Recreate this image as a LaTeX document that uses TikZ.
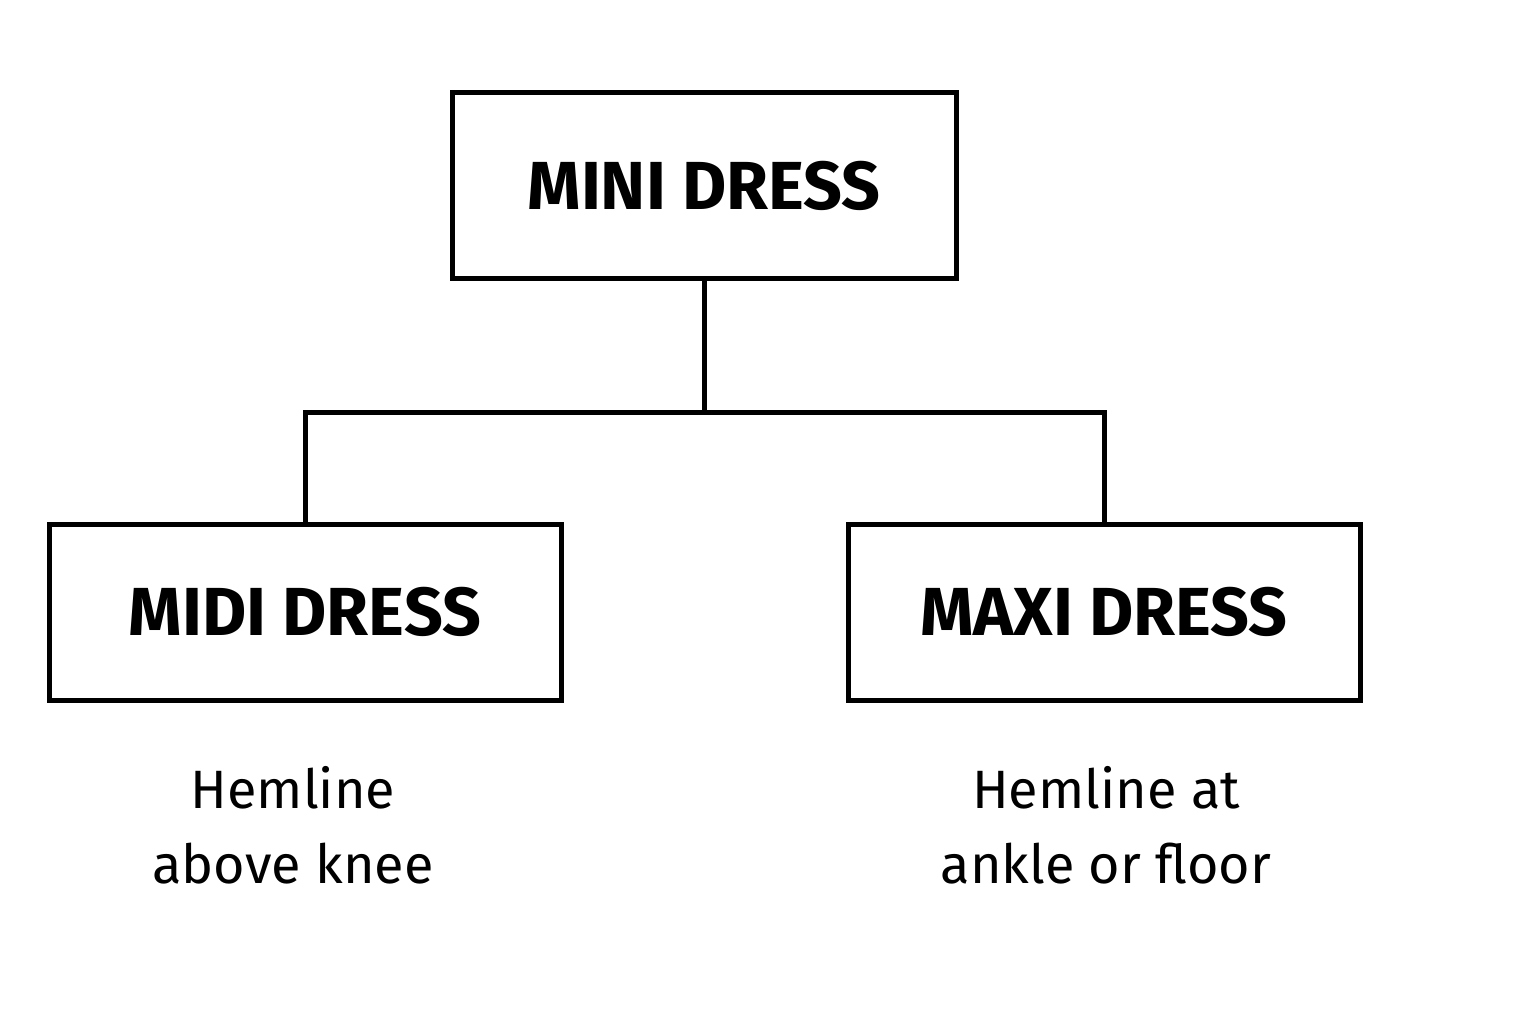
\documentclass[tikz,border=0pt]{standalone}
\usepackage{fontspec}
\setmainfont{Fira Sans}
\begin{document}
\begin{tikzpicture}[x=1pt,y=-1pt,
    dressbox/.style={draw,line width=5pt,minimum width=504pt,minimum height=186pt,font=\fontsize{68}{80}\selectfont\bfseries},
    note/.style={align=center,font=\fontsize{54}{75}\selectfont}]
    \useasboundingbox (0,0) rectangle (1536,1024);
    \node[dressbox] (mini) at (704,186) {MINI DRESS};
    \node[dressbox,minimum height=176pt,minimum width=512pt] (midi) at (305,612) {MIDI DRESS};
    \node[dressbox,minimum height=176pt,minimum width=512pt] (maxi) at (1104,612) {MAXI DRESS};
    \coordinate (split) at (704,412);
    \draw[line width=5pt] (mini.south) -- (split);
    \draw[line width=5pt] (split) -| (midi.north);
    \draw[line width=5pt] (split) -| (maxi.north);
    \node[note] (midinote) at (293,825) {Hemline\\above knee};
    \node[note] (maxinote) at (1106,825) {Hemline at\\ankle or floor};
\end{tikzpicture}
\end{document}
